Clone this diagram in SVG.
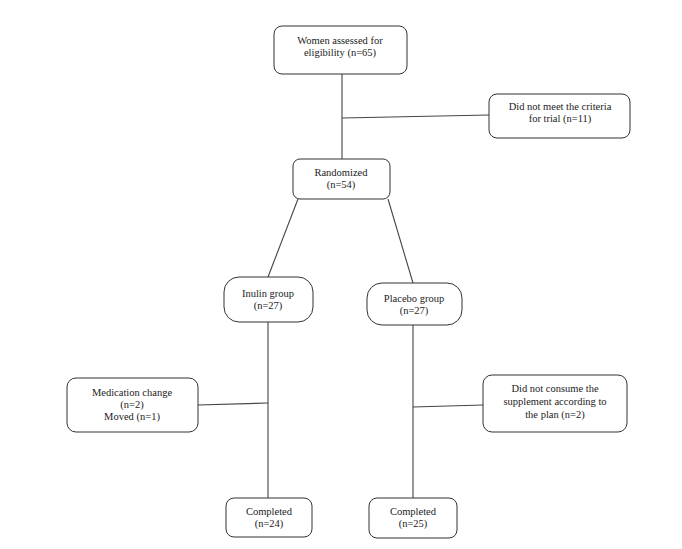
<svg xmlns="http://www.w3.org/2000/svg" width="682" height="549" viewBox="0 0 682 549">
<style>
.box{fill:#fff;stroke:#333;stroke-width:1}
.ln{stroke:#444;stroke-width:1.1;fill:none}
text{font-family:'Liberation Serif','Times New Roman',Times,serif;font-size:10.5px;fill:#222;text-anchor:middle}
</style>
<rect width="682" height="549" fill="#fff"/>
<g id="connectors">
<line class="ln" x1="342" y1="74" x2="342" y2="159"/>
<line class="ln" x1="342" y1="118" x2="489" y2="115"/>
<line class="ln" x1="298" y1="199" x2="268" y2="277"/>
<line class="ln" x1="388" y1="199" x2="413" y2="283"/>
<line class="ln" x1="268" y1="322" x2="268" y2="498"/>
<line class="ln" x1="413" y1="325" x2="413" y2="498"/>
<line class="ln" x1="198" y1="405" x2="268" y2="403"/>
<line class="ln" x1="413" y1="407" x2="483" y2="405"/>
</g>
<g font-family="Liberation Serif, serif">
<g id="assessed">
<rect class="box" x="274" y="26" width="133" height="48" rx="8"/>
<text x="340" y="44">Women assessed for</text>
<text x="340" y="56">eligibility (n=65)</text>
</g>
<g id="excluded">
<rect class="box" x="489" y="94" width="141" height="44" rx="8"/>
<text x="560" y="110">Did not meet the criteria</text>
<text x="560" y="122">for trial (n=11)</text>
</g>
<g id="randomized">
<rect class="box" x="293" y="159" width="97" height="40" rx="7"/>
<text x="341" y="176">Randomized</text>
<text x="341" y="188">(n=54)</text>
</g>
<g id="inulin">
<rect class="box" x="224" y="277" width="89" height="45" rx="15"/>
<text x="268" y="297">Inulin group</text>
<text x="268" y="309">(n=27)</text>
</g>
<g id="placebo">
<rect class="box" x="367" y="283" width="95" height="42" rx="15"/>
<text x="414" y="302">Placebo group</text>
<text x="414" y="314">(n=27)</text>
</g>
<g id="inulin-loss">
<rect class="box" x="67" y="378" width="131" height="54" rx="9"/>
<text x="132" y="396">Medication change</text>
<text x="132" y="408">(n=2)</text>
<text x="132" y="420">Moved (n=1)</text>
</g>
<g id="placebo-loss">
<rect class="box" x="483" y="375" width="144" height="57" rx="9"/>
<text x="555" y="392">Did not consume the</text>
<text x="555" y="405">supplement according to</text>
<text x="555" y="418">the plan (n=2)</text>
</g>
<g id="inulin-completed">
<rect class="box" x="226" y="498" width="86" height="39" rx="8"/>
<text x="269" y="515">Completed</text>
<text x="269" y="527">(n=24)</text>
</g>
<g id="placebo-completed">
<rect class="box" x="369" y="498" width="88" height="40" rx="8"/>
<text x="413" y="515">Completed</text>
<text x="413" y="527">(n=25)</text>
</g>
</g>
</svg>
